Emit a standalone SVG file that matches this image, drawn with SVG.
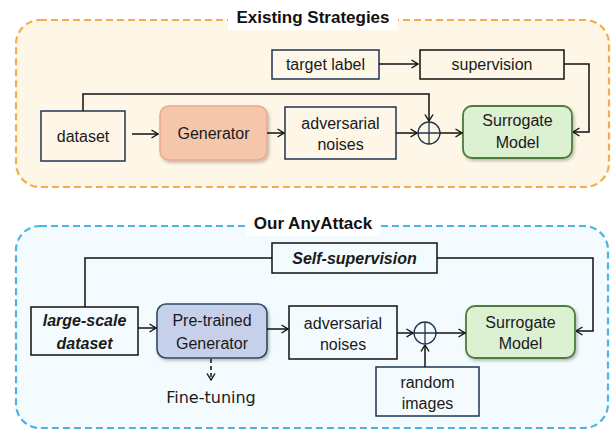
<svg xmlns="http://www.w3.org/2000/svg" width="611" height="430" viewBox="0 0 611 430">
<style>
text{font-family:"Liberation Sans",Arial,sans-serif;font-size:16px;fill:#1a1a1a;text-anchor:middle}
.title{font-weight:bold;font-size:17px;fill:#111}
.bi{font-weight:bold;font-style:italic}
.box{fill:none;stroke-width:1.5}
.navy{stroke:#1f3550}
.blk{stroke:#111}
.edge{fill:none;stroke:#111;stroke-width:1.5}
.hand{font-family:"DejaVu Sans",sans-serif;font-size:16px}
</style>
<defs>
<marker id="arr" viewBox="0 0 8 10" refX="7.5" refY="5" markerWidth="8" markerHeight="10" markerUnits="userSpaceOnUse" orient="auto">
<path d="M1,1 L7.5,5 L1,9" fill="none" stroke="#111" stroke-width="1.4"/>
</marker>
<filter id="sh" x="-20%" y="-20%" width="140%" height="150%">
<feDropShadow dx="1.5" dy="2" stdDeviation="1.5" flood-color="#000" flood-opacity="0.25"/>
</filter>
</defs>

<!-- section frames -->
<g id="existing">
<rect x="16" y="20" width="593" height="167" rx="24" fill="#fef6e7" stroke="#f5ad4b" stroke-width="2.2" stroke-dasharray="7 4"/>
<rect x="228" y="8" width="170" height="22" fill="#fff"/>
<text class="title" x="313" y="23">Existing Strategies</text>
</g>
<g id="anyattack">
<rect x="16" y="226" width="592" height="202" rx="24" fill="#f3fbfe" stroke="#4ab4e4" stroke-width="2.2" stroke-dasharray="7 4"/>
<rect x="246" y="214" width="134" height="22" fill="#fff"/>
<text class="title" x="313" y="229">Our AnyAttack</text>
</g>

<!-- top nodes -->
<g id="target-label"><rect class="box navy" x="272" y="50" width="107" height="29"/><text x="325.5" y="70">target label</text></g>
<g id="supervision"><rect class="box blk" x="420" y="50" width="144" height="29"/><text x="492" y="70">supervision</text></g>
<g id="dataset"><rect class="box navy" x="41" y="111" width="84" height="50"/><text x="83" y="142">dataset</text></g>
<g id="generator"><rect x="160" y="106" width="107" height="54" rx="9" fill="#f5c6ab" stroke="#eaa98a" stroke-width="1.5" filter="url(#sh)"/><text x="213.5" y="139">Generator</text></g>
<g id="adv-noises-1"><rect class="box navy" x="285" y="107" width="111" height="52"/><text x="340.5" y="129">adversarial</text><text x="340.5" y="150">noises</text></g>
<g id="plus-1"><circle cx="429" cy="133" r="11" fill="none" stroke="#1f3550" stroke-width="1.3"/><path d="M418,133 H440 M429,122 V144" stroke="#1f3550" stroke-width="1.3"/></g>
<g id="surrogate-1"><rect x="463" y="106" width="109" height="52" rx="9" fill="#dcf0d2" stroke="#4d7b3a" stroke-width="1.8" filter="url(#sh)"/><text x="517.5" y="126">Surrogate</text><text x="517.5" y="148">Model</text></g>

<!-- bottom nodes -->
<g id="self-supervision"><rect class="box blk" x="272" y="243" width="165" height="30"/><text class="bi" x="354.5" y="264">Self-supervision</text></g>
<g id="large-scale-dataset"><rect class="box blk" x="31" y="307" width="107" height="48"/><text class="bi" x="84.5" y="326">large-scale</text><text class="bi" x="84.5" y="349">dataset</text></g>
<g id="pretrained-generator"><rect x="157" y="304" width="110" height="54" rx="9" fill="#c6d0ea" stroke="#2e4a63" stroke-width="1.6" filter="url(#sh)"/><text x="212" y="326">Pre-trained</text><text x="212" y="349">Generator</text></g>
<g id="adv-noises-2"><rect class="box blk" x="289" y="306" width="108" height="53"/><text x="343" y="329">adversarial</text><text x="343" y="350">noises</text></g>
<g id="plus-2"><circle cx="425" cy="333" r="11" fill="none" stroke="#1f3550" stroke-width="1.3"/><path d="M414,333 H436 M425,322 V344" stroke="#1f3550" stroke-width="1.3"/></g>
<g id="surrogate-2"><rect x="466" y="306" width="109" height="52" rx="9" fill="#dcf0d2" stroke="#4d7b3a" stroke-width="1.8" filter="url(#sh)"/><text x="520.5" y="328">Surrogate</text><text x="520.5" y="349">Model</text></g>
<g id="random-images"><rect class="box navy" x="376" y="367" width="103" height="49"/><text x="427.5" y="388">random</text><text x="427.5" y="409">images</text></g>
<g id="fine-tuning"><text class="hand" x="211" y="403">Fine-tuning</text></g>

<!-- connectors -->
<g id="connectors">
<path class="edge" d="M379,64 H418" marker-end="url(#arr)"/>
<path class="edge" d="M564,64 H589 V132 H573" marker-end="url(#arr)"/>
<path class="edge" d="M83,111 V94 H429 V121" marker-end="url(#arr)"/>
<path class="edge" d="M132,134 H158" marker-end="url(#arr)"/>
<path class="edge" d="M267,133 H284" marker-end="url(#arr)"/>
<path class="edge" d="M396,133 H417" marker-end="url(#arr)"/>
<path class="edge" d="M440,133 H462" marker-end="url(#arr)"/>

<path class="edge" d="M85,307 V258 H272"/>
<path class="edge" d="M437,258 H593 V331 H576" marker-end="url(#arr)"/>
<path class="edge" d="M138,328 H156" marker-end="url(#arr)"/>
<path class="edge" d="M267,329 H288" marker-end="url(#arr)"/>
<path class="edge" d="M397,333 H413" marker-end="url(#arr)"/>
<path class="edge" d="M436,333 H465" marker-end="url(#arr)"/>
<path class="edge" d="M425,367 V345" marker-end="url(#arr)"/>
<path class="edge" d="M211,359 V380" stroke-dasharray="4 3" marker-end="url(#arr)"/>
</g>
</svg>
